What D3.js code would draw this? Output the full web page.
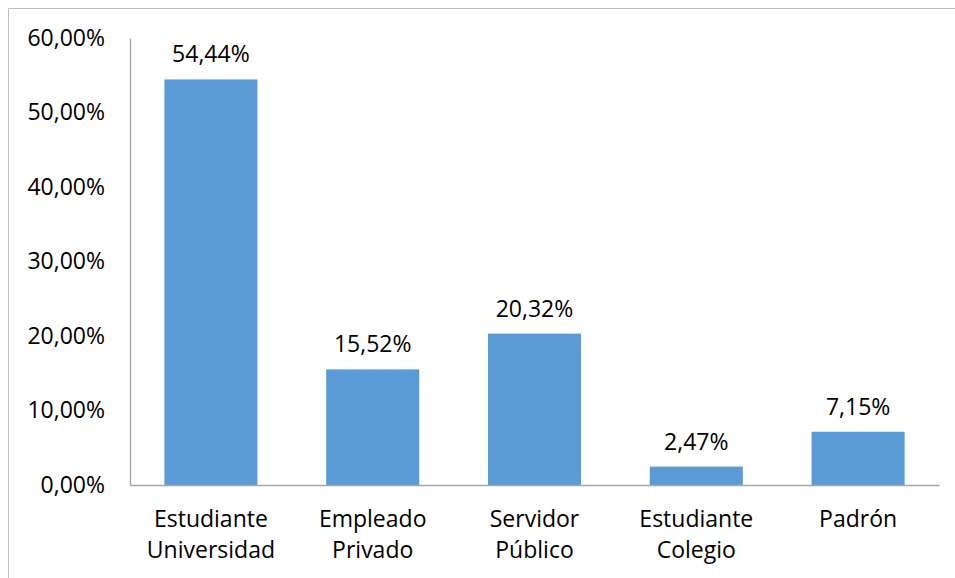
<!DOCTYPE html>
<html>
<head>
<meta charset="utf-8">
<script src="https://cdn.jsdelivr.net/npm/d3@7"></script>
<style>
  body { margin: 0; background: #fff; }
  text { font-family: "Open Sans", sans-serif; fill: #000; }
</style>
</head>
<body>
<div id="container"></div>
<script>
const WIDTH = 955;
const HEIGHT = 578;
const MARGIN = { TOP: 38, BOTTOM: 93, LEFT: 130, RIGHT: 16 };

const categories = [['Estudiante', 'Universidad'], ['Empleado', 'Privado'], ['Servidor', 'Público'], ['Estudiante', 'Colegio'], ['Padrón']];
const values = [54.44, 15.52, 20.32, 2.47, 7.15];
const ticks = [0, 10, 20, 30, 40, 50, 60];

const width = WIDTH - MARGIN.LEFT - MARGIN.RIGHT;
const height = HEIGHT - MARGIN.TOP - MARGIN.BOTTOM;

const fmt = v => v.toFixed(2).replace('.', ',') + '%';

const svg = d3.select('#container')
  .append('svg')
  .attr('width', WIDTH)
  .attr('height', HEIGHT);

// outer frame (only top and left edges are visible in the crop)
svg.append('line').attr('x1', 8.5).attr('x2', WIDTH).attr('y1', 8.5).attr('y2', 8.5).attr('stroke', '#bfbfbf');
svg.append('line').attr('x1', 8.5).attr('x2', 8.5).attr('y1', 8.5).attr('y2', HEIGHT).attr('stroke', '#bfbfbf');

const container = svg.append('g')
  .attr('transform', `translate(${MARGIN.LEFT}, ${MARGIN.TOP})`);

const idx = d3.range(values.length);

const x = d3.scaleBand()
  .domain(idx)
  .range([0, width])
  .paddingInner(0.425)
  .paddingOuter(0.2125);

const y = d3.scaleLinear()
  .domain([0, 60])
  .range([height, 0]);

// y axis
const yAxis = container.append('g')
  .call(d3.axisLeft(y).tickValues(ticks).tickSize(0).tickPadding(25).tickFormat(fmt));
yAxis.select('.domain').attr('stroke', '#a6a6a6').attr('stroke-width', 1.3);
yAxis.selectAll('text').style('font-size', '23px').attr('dy', '0.32em');

// bars
container.selectAll('rect.bar')
  .data(idx)
  .enter()
  .append('rect')
    .attr('class', 'bar')
    .attr('x', i => x(i))
    .attr('width', x.bandwidth())
    .attr('y', i => y(values[i]))
    .attr('height', i => y(0) - y(values[i]))
    .attr('fill', '#5b9bd5');

// x axis
const xAxis = container.append('g')
  .attr('transform', `translate(0, ${height})`)
  .call(d3.axisBottom(x).tickSize(0).tickFormat(''));
xAxis.select('.domain').attr('stroke', '#a6a6a6').attr('stroke-width', 1.3);

// category labels
xAxis.selectAll('.tick').each(function (i) {
  const t = d3.select(this).append('text')
    .attr('text-anchor', 'middle')
    .style('font-size', '23px')
    .attr('y', 42);
  categories[i].forEach((line, k) => {
    t.append('tspan').attr('x', 0).attr('dy', k === 0 ? 0 : 31).text(line);
  });
});

// value labels
container.selectAll('text.value')
  .data(idx)
  .enter()
  .append('text')
    .attr('class', 'value')
    .attr('text-anchor', 'middle')
    .style('font-size', '23px')
    .attr('x', i => x(i) + x.bandwidth() / 2)
    .attr('y', i => y(values[i]) - 17)
    .text(i => fmt(values[i]));
</script>
</body>
</html>
